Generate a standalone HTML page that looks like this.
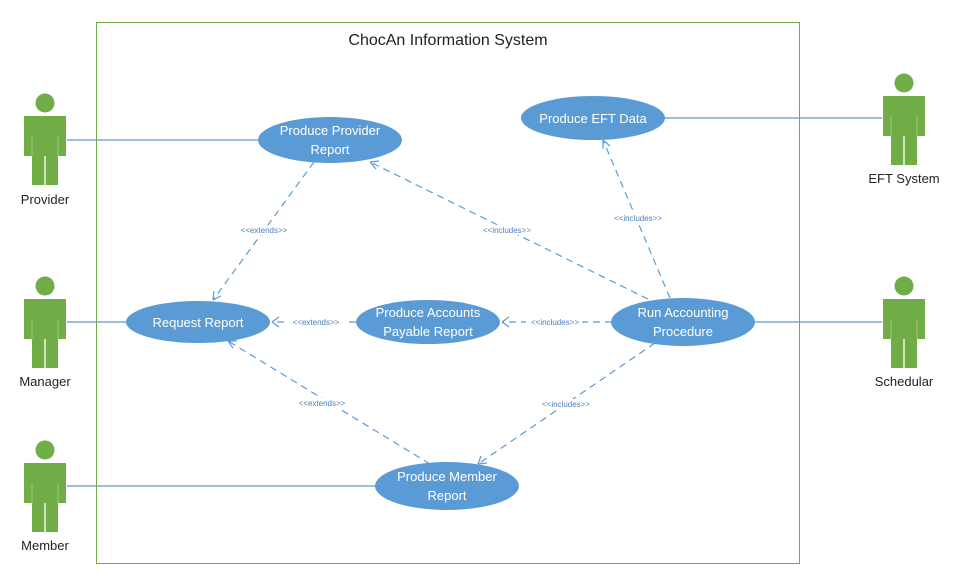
<!DOCTYPE html>
<html><head><meta charset="utf-8"><style>body{margin:0;background:#fff}svg{display:block}</style></head><body>
<svg width="956" height="584" xmlns="http://www.w3.org/2000/svg" font-family="Liberation Sans, sans-serif">
<defs>
<g id="actor" fill="#70ad47">
<circle cx="0" cy="0" r="9.5"/>
<path d="M-21,13 H21 V53 H13 V82 H1 V53 H-1 V82 H-13 V53 H-21 Z"/>
<path d="M-13,33 V53 M13,33 V53 M0,53 V82" stroke="#9cc97c" stroke-width="1" fill="none"/>
</g>
</defs>
<rect x="96.5" y="22.5" width="703" height="541" fill="none" stroke="#70ad47" stroke-width="1"/>
<text x="448" y="45" font-size="16" text-anchor="middle" fill="#222">ChocAn Information System</text>

<use href="#actor" x="45" y="103"/>
<use href="#actor" x="45" y="286"/>
<use href="#actor" x="45" y="450"/>
<use href="#actor" x="904" y="83"/>
<use href="#actor" x="904" y="286"/>
<g font-size="13" fill="#222" text-anchor="middle">
<text x="45" y="204">Provider</text>
<text x="45" y="386">Manager</text>
<text x="45" y="550">Member</text>
<text x="904" y="183">EFT System</text>
<text x="904" y="386">Schedular</text>
</g>

<g stroke="#5b9bd5" stroke-width="1.3">
<line x1="67" y1="140" x2="260" y2="140"/>
<line x1="67" y1="322" x2="127" y2="322"/>
<line x1="67" y1="486" x2="376" y2="486"/>
<line x1="664" y1="118" x2="882" y2="118"/>
<line x1="754" y1="322" x2="882" y2="322"/>
</g>

<g stroke="#5b9bd5" stroke-width="1.2" stroke-dasharray="7,5" fill="none">
<line x1="314" y1="162" x2="213" y2="300"/>
<line x1="356" y1="322" x2="272" y2="322"/>
<line x1="430" y1="464" x2="228" y2="341"/>
<line x1="612" y1="322" x2="502" y2="322"/>
<line x1="655" y1="343" x2="478" y2="464"/>
<line x1="648" y1="299" x2="370" y2="162"/>
<line x1="670" y1="298" x2="603" y2="140"/>
</g>
<g stroke="#5b9bd5" stroke-width="1.2" fill="none">
<path d="M213,300 l1,-9 M213,300 l8,-4"/>
<path d="M272,322 l7,-5 M272,322 l7,5"/>
<path d="M228,341 l5,7 M228,341 l9,0"/>
<path d="M502,322 l7,-5 M502,322 l7,5"/>
<path d="M478,464 l9,-1 M478,464 l3,-8"/>
<path d="M370,162 l6,7 M370,162 l9,-1"/>
<path d="M603,140 l0,9 M603,140 l7,6"/>
</g>
<g font-size="8" fill="#4a7fbd" text-anchor="middle">
<rect x="238" y="225" width="52" height="10" fill="#fff"/><text x="264" y="233">&lt;&lt;extends&gt;&gt;</text>
<rect x="288" y="317" width="56" height="10" fill="#fff"/><text x="316" y="325">&lt;&lt;extends&gt;&gt;</text>
<rect x="296" y="398" width="52" height="10" fill="#fff"/><text x="322" y="406">&lt;&lt;extends&gt;&gt;</text>
<rect x="526" y="317" width="56" height="10" fill="#fff"/><text x="555" y="325">&lt;&lt;includes&gt;&gt;</text>
<rect x="538" y="399" width="56" height="10" fill="#fff"/><text x="566" y="407">&lt;&lt;includes&gt;&gt;</text>
<rect x="480" y="225" width="56" height="10" fill="#fff"/><text x="507" y="233">&lt;&lt;includes&gt;&gt;</text>
<rect x="610" y="213" width="56" height="10" fill="#fff"/><text x="638" y="221">&lt;&lt;includes&gt;&gt;</text>
</g>

<g fill="#5b9bd5">
<ellipse cx="330" cy="140" rx="72" ry="23"/>
<ellipse cx="593" cy="118" rx="72" ry="22"/>
<ellipse cx="198" cy="322" rx="72" ry="21"/>
<ellipse cx="428" cy="322" rx="72" ry="22"/>
<ellipse cx="683" cy="322" rx="72" ry="24"/>
<ellipse cx="447" cy="486" rx="72" ry="24"/>
</g>
<g font-size="13" fill="#fff" text-anchor="middle">
<text x="330" y="135">Produce Provider</text><text x="330" y="154">Report</text>
<text x="593" y="123">Produce EFT Data</text>
<text x="198" y="327">Request Report</text>
<text x="428" y="317">Produce Accounts</text><text x="428" y="336">Payable Report</text>
<text x="683" y="317">Run Accounting</text><text x="683" y="336">Procedure</text>
<text x="447" y="481">Produce Member</text><text x="447" y="500">Report</text>
</g>
</svg>
</body></html>
